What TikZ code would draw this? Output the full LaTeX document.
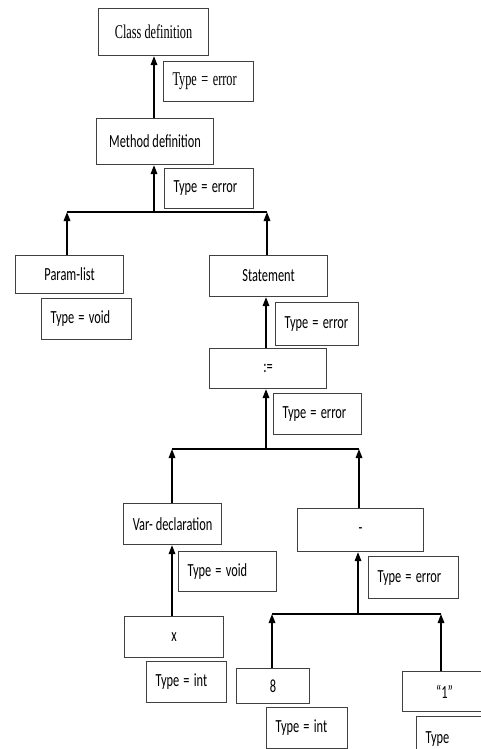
\documentclass[tikz,border=0pt]{standalone}
\usepackage{fontspec}
\setmainfont{Carlito}[FakeStretch=0.67,WordSpace=1.05]
\newfontfamily\serifx{Liberation Serif}[FakeStretch=0.63,WordSpace=1.0]
\usetikzlibrary{arrows.meta}
\newcommand{\eqs}{\hspace{-2pt}=\hspace{-2pt}}
\begin{document}
\begin{tikzpicture}[x=1pt,y=-1pt,
  box/.style={draw=black!75, line width=1.1pt, inner sep=0pt, anchor=north west,
    font=\fontsize{18.5}{20}\selectfont},
  serifbox/.style={font=\serifx\fontsize{19.5}{20}\selectfont},
  tbox/.style={box, align=left, inner xsep=9pt, inner ysep=0pt},
  arr/.style={draw=black, line width=1.6pt, -{Triangle[length=9pt,width=6.5pt]}},
  bar/.style={draw=black, line width=2.6pt}]
\clip (0,0) rectangle (481,749);
\fill[white] (0,0) rectangle (481,749);
% main boxes
\node[box, serifbox, minimum width=110pt, minimum height=47pt] (cdef) at (98,8) {Class definition};
\node[box, minimum width=117pt, minimum height=46pt] (mdef) at (96,118) {Method definition};
\node[box, minimum width=108pt, minimum height=38pt] (param) at (15,255) {Param-list};
\node[box, minimum width=118pt, minimum height=41pt] (stmt) at (209,255) {Statement};
\node[box, minimum width=117pt, minimum height=40pt] (assign) at (209,348) {:=};
\node[box, minimum width=98pt, minimum height=41pt] (var) at (123,503) {Var- declaration};
\node[box, minimum width=126pt, minimum height=43pt] (minus) at (297,508) {-\hspace{20pt}};
\node[box, minimum width=99pt, minimum height=41pt] (xnode) at (124,616) {x\hspace{8pt}};
\node[box, minimum width=73pt, minimum height=35pt] (eight) at (236,668) {8};
\node[box, minimum width=84pt, minimum height=40pt] (one) at (402,671) {“1”};
% type boxes
\node[tbox, serifbox, text width=72pt, minimum height=40pt] (t1) at (163,61) {\mbox{Type \eqs{} error}};
\node[tbox, text width=71pt, minimum height=40pt] (t2) at (164,168) {\mbox{Type \eqs{} error}};
\node[tbox, text width=72pt, minimum height=41pt] (t3) at (41,298) {\mbox{Type \eqs{} void}};
\node[tbox, text width=65pt, minimum height=43pt] (t4) at (275,302) {\mbox{Type \eqs{} error}};
\node[tbox, text width=70pt, minimum height=41pt] (t5) at (273,393) {\mbox{Type \eqs{} error}};
\node[tbox, text width=80pt, minimum height=40pt] (t6) at (178,551) {\mbox{Type \eqs{} void}};
\node[tbox, text width=72pt, minimum height=42pt] (t7) at (368,556) {\mbox{Type \eqs{} error}};
\node[tbox, text width=62pt, minimum height=41pt] (t8) at (146,661) {\mbox{Type \eqs{} int}};
\node[tbox, text width=63pt, minimum height=41pt] (t9) at (266,707) {\mbox{Type \eqs{} int}};
\node[tbox, text width=62pt, minimum height=45pt] (t10) at (416,716) {Type};
% junctions
\coordinate (b1) at (154,212); \coordinate (b1l) at (67,212); \coordinate (b1r) at (267,212);
\coordinate (b2) at (266,449); \coordinate (b2l) at (172,449); \coordinate (b2r) at (359,449);
\coordinate (b3) at (358,614); \coordinate (b3l) at (272,614); \coordinate (b3r) at (441,614);
% bars
\draw[bar] (b1l) -- (b1r);
\draw[bar] (b2l) -- (b2r);
\draw[bar] (b3l) -- (b3r);
% arrows
\draw[arr] (b1 |- mdef.north) -- (b1 |- cdef.south);
\draw[arr] (b1) -- (b1 |- mdef.south);
\draw[arr] (b1l |- param.north) -- (b1l);
\draw[arr] (b1r |- stmt.north) -- (b1r);
\draw[arr] (b2 |- assign.north) -- (b2 |- stmt.south);
\draw[arr] (b2) -- (b2 |- assign.south);
\draw[arr] (b2l |- var.north) -- (b2l);
\draw[arr] (b2r |- minus.north) -- (b2r);
\draw[arr] (b2l |- xnode.north) -- (b2l |- var.south);
\draw[arr] (b3) -- (b3 |- minus.south);
\draw[arr] (b3l |- eight.north) -- (b3l);
\draw[arr] (b3r |- one.north) -- (b3r);
\end{tikzpicture}
\end{document}
